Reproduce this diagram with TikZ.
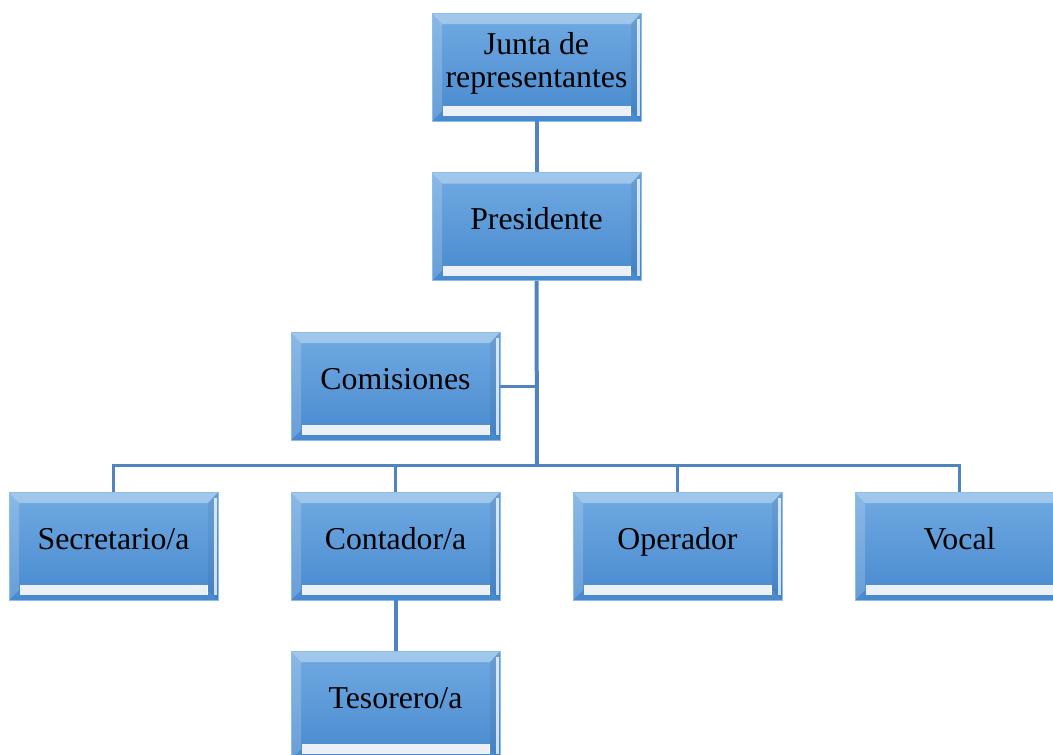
\documentclass[tikz,border=0pt]{standalone}
\usepackage{fontspec}
\setmainfont{Liberation Serif}
\usetikzlibrary{calc}
\definecolor{faceTop}{RGB}{112,170,226}
\definecolor{faceBot}{RGB}{72,137,206}
\definecolor{edgeBlue}{RGB}{140,190,235}
\definecolor{barWhite}{RGB}{234,240,246}
\definecolor{linkBlue}{RGB}{79,132,192}
\tikzset{
  orgbox/.style={rectangle, minimum width=209pt, minimum height=108pt, inner sep=0pt,
    draw=edgeBlue, line width=0.8pt, top color=faceTop, bottom color=faceBot,
    path picture={
      \coordinate (NW) at (path picture bounding box.north west);
      \coordinate (NE) at (path picture bounding box.north east);
      \coordinate (SW) at (path picture bounding box.south west);
      \coordinate (SE) at (path picture bounding box.south east);
      % top bevel
      \fill[white, opacity=0.35] (NW) -- (NE) -- ($(NE)+(-10pt,-11pt)$) -- ($(NW)+(10pt,-11pt)$) -- cycle;
      % left bevel
      \fill[white, opacity=0.18] (NW) -- ($(NW)+(10pt,-11pt)$) -- ($(SW)+(10pt,10pt)$) -- (SW) -- cycle;
      % right bevel with bright rim
      \fill[black, opacity=0.06] (NE) -- ($(NE)+(-10pt,-11pt)$) -- ($(SE)+(-10pt,10pt)$) -- (SE) -- cycle;
      \fill[white, opacity=0.75] ($(NE)+(-4pt,-6pt)$) rectangle ($(SE)+(-1pt,5pt)$);
      % light bar along the bottom
      \fill[barWhite] ($(SW)+(11pt,5pt)$) rectangle ($(SE)+(-11pt,15pt)$);
      \draw[white, line width=0.6pt] ($(SE)+(-11pt,5pt)$) -- ($(SE)+(-11pt,15pt)$);
    }},
  orglabel/.style={font=\fontsize{31.8}{33.5}\selectfont, align=center, inner sep=0pt, text=black},
  link/.style={draw=linkBlue, line width=3pt},
  trunk/.style={draw=linkBlue, line width=4pt}
}
% box with a one-line label set on a common baseline
\newcommand\orgnode[3]{%
  \node[orgbox] (#1) at #2 {};
  \node[orglabel, anchor=base] (#1-t) at ($(#1.center)+(0pt,-3pt)$) {#3};
}
\begin{document}
\begin{tikzpicture}[x=1pt, y=-1pt]
  \clip (0,0) rectangle (1053,755);
  \useasboundingbox (0,0) rectangle (1053,755);
  \fill[white] (0,0) rectangle (1053,755);

  \coordinate (hub) at (537,465);

  \node[orgbox] (jr) at (536.5,67) {};
  \node[orglabel] (jr-t) at ($(jr.center)+(0pt,3.5pt)$) {Junta de\\representantes};
  \orgnode{pr}{(536.5,226.5)}{Presidente}
  \orgnode{com}{(395.5,386)}{Comisiones}
  \orgnode{sec}{(113.5,546)}{Secretario/a}
  \orgnode{con}{(395.5,546)}{Contador/a}
  \orgnode{ope}{(677.5,546)}{Operador}
  \orgnode{voc}{(959.5,546)}{Vocal}
  \orgnode{tes}{(395.5,705)}{Tesorero/a}

  \draw[trunk] (jr.south) -- (pr.north);
  \draw[trunk] (pr.south) -- (hub);
  \draw[link] (com.east) -- (com.east -| hub);
  \draw[link] (hub) -| (sec.north);
  \draw[link] (hub) -| (voc.north);
  \draw[link] (hub) -| (con.north);
  \draw[link] (hub) -| (ope.north);
  \draw[trunk] (con.south) -- (tes.north);
\end{tikzpicture}
\end{document}
